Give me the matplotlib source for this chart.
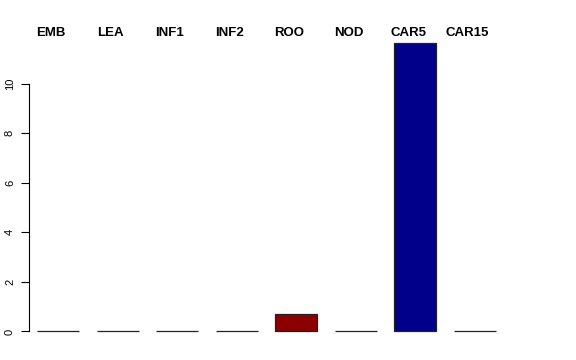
import numpy as np
import matplotlib.pyplot as plt

plt.rcParams['font.family'] = ['Liberation Sans', 'DejaVu Sans']

tissues = ['EMB', 'LEA', 'INF1', 'INF2', 'ROO', 'NOD', 'CAR5', 'CAR15']
values = [0, 0, 0, 0, 0.69, 0, 11.66, 0]
colors = ['white', 'white', 'white', 'white', '#8B0000', 'white', '#00008B', 'white']

fig = plt.figure(figsize=(5.76, 3.6), dpi=100)
# plot region in pixels: left 29, right 520, top 31, bottom 343
ax = fig.add_axes([29 / 576, (360 - 343) / 360, (520 - 29) / 576, (343 - 31) / 360])

x = np.arange(len(tissues))
ax.bar(x, values, width=0.706, color=colors, edgecolor='#222222', linewidth=0.9)

ax.set_xlim(-0.487, 7.76)
ax.set_ylim(-0.466, 12.13)

# labels sit above the plot, slightly left of the bar centres
for lx, name in zip(x - 0.12, tissues):
    ax.text(lx, 11.94, name, ha='center', va='baseline', fontsize=9.5,
            fontweight='bold', clip_on=False)

for side in ['top', 'right', 'bottom']:
    ax.spines[side].set_visible(False)
ax.spines['left'].set_bounds(0, 10)
ax.spines['left'].set_linewidth(0.8)
ax.set_xticks([])
ax.set_yticks([0, 2, 4, 6, 8, 10])
ax.tick_params(axis='y', length=5.8, width=0.8, pad=4.3, labelsize=8)
for t in ax.get_yticklabels():
    t.set_rotation(90)
    t.set_va('center')

fig.savefig('out.png', dpi=100)
